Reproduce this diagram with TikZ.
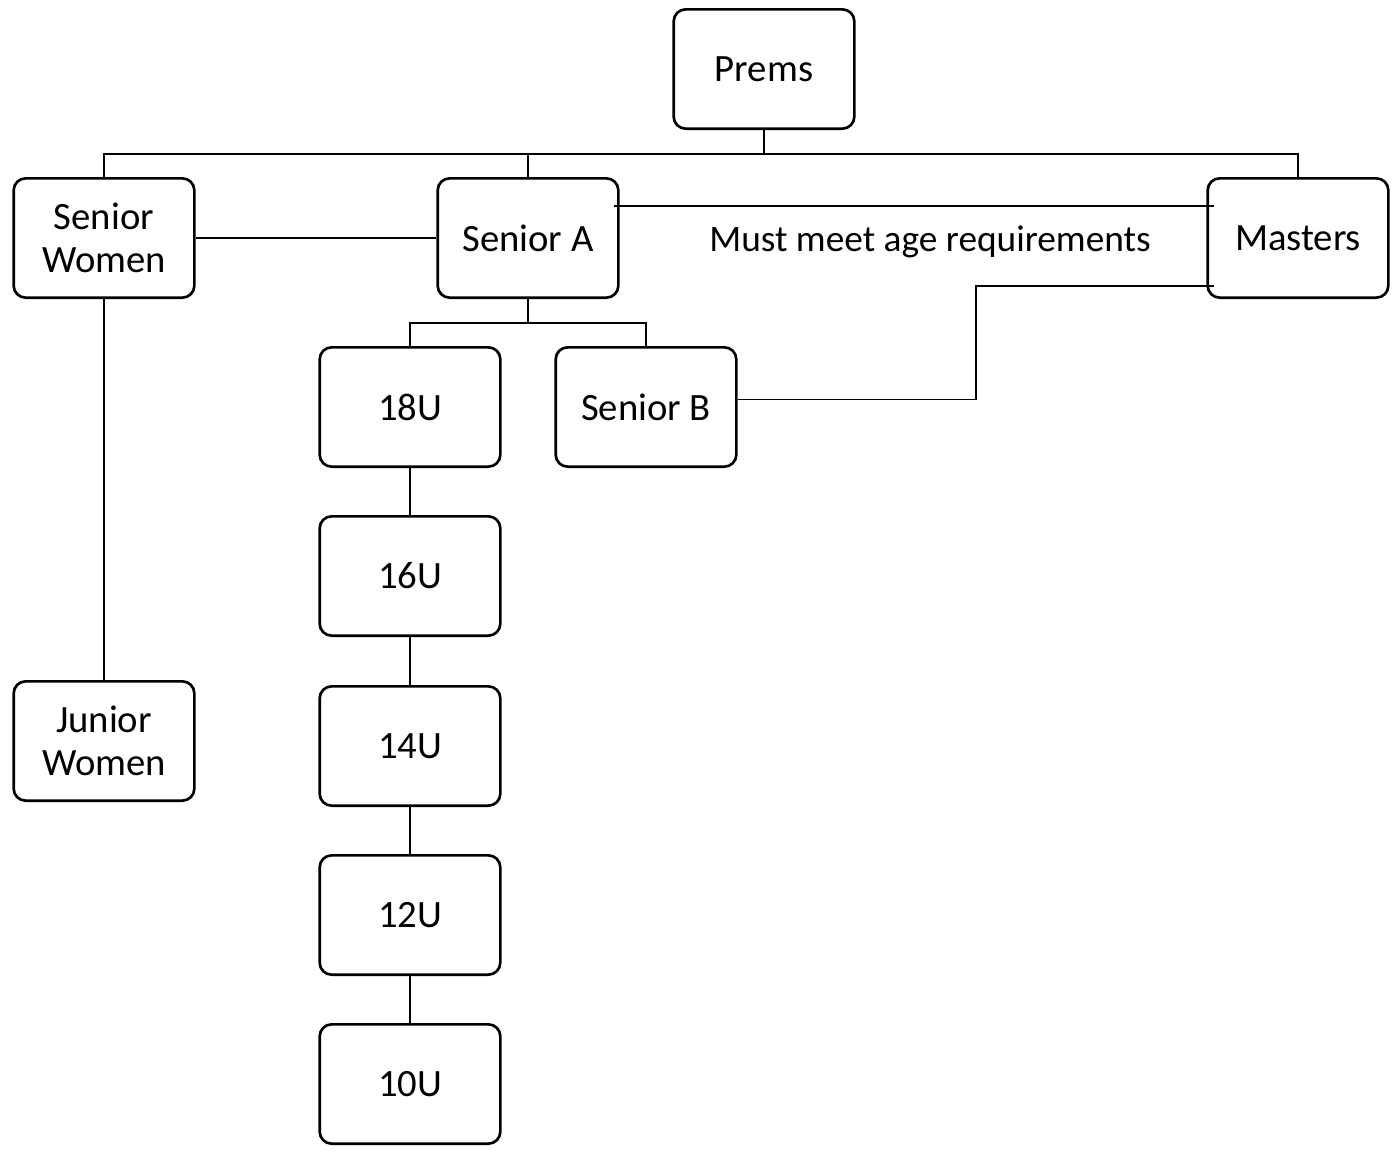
\documentclass[tikz,border=0pt]{standalone}
\usepackage{fontspec}
\setmainfont{Carlito}
\begin{document}
\begin{tikzpicture}[x=0.75pt,y=-0.75pt,
  box/.style={draw,line width=2pt,rounded corners=9pt,minimum width=135.5pt,minimum height=89.5pt,inner sep=0pt,align=center,font=\fontsize{29}{32.3}\selectfont},
  conn/.style={line width=1.7pt},
  thinline/.style={line width=0.8pt}]
\useasboundingbox (0,0) rectangle (1396,1153);
\fill[white] (0,0) rectangle (1396,1153);
\node[box] (prems) at (764,69) {Prems};
\node[box] (sw) at (104,238) {Senior\\Women};
\node[box] (sa) at (528,238) {Senior A};
\node[box] (ma) at (1298,238) {Masters};
\node[box] (u18) at (410,407) {18U};
\node[box] (sb) at (646,407) {Senior B};
\node[box] (u16) at (410,576) {16U};
\node[box] (u14) at (410,746) {14U};
\node[box] (u12) at (410,915) {12U};
\node[box] (u10) at (410,1084) {10U};
\node[box] (jw) at (104,741) {Junior\\Women};
\node[anchor=base,inner sep=0pt,font=\fontsize{28}{32}\selectfont] (lbl) at (sa.base -| 930,0) {Must meet age requirements};
\coordinate (bus) at (764,154);
\coordinate (bus2) at (528,323);
\coordinate (t1) at (614,206);
\coordinate (t2) at (1214,206);
\coordinate (t3) at (1214,286);
\coordinate (t4) at (976,286);
\draw[conn] (prems.south) -- (bus);
\draw[conn] (sw.north) |- (bus) -| (ma.north);
\draw[conn] (sa.north) -- (sa.north |- bus);
\draw[conn] (sw.east) -- (sa.west);
\draw[conn] (sw.south) -- (jw.north);
\draw[conn] (sa.south) -- (bus2);
\draw[conn] (u18.north) |- (bus2) -| (sb.north);
\draw[conn] (u18.south) -- (u16.north);
\draw[conn] (u16.south) -- (u14.north);
\draw[conn] (u14.south) -- (u12.north);
\draw[conn] (u12.south) -- (u10.north);
\draw[thinline] (t1) -- (t2);
\draw[thinline] ([yshift=5.5pt]sb.east) -| (t4) -- (t3);
\end{tikzpicture}
\end{document}
